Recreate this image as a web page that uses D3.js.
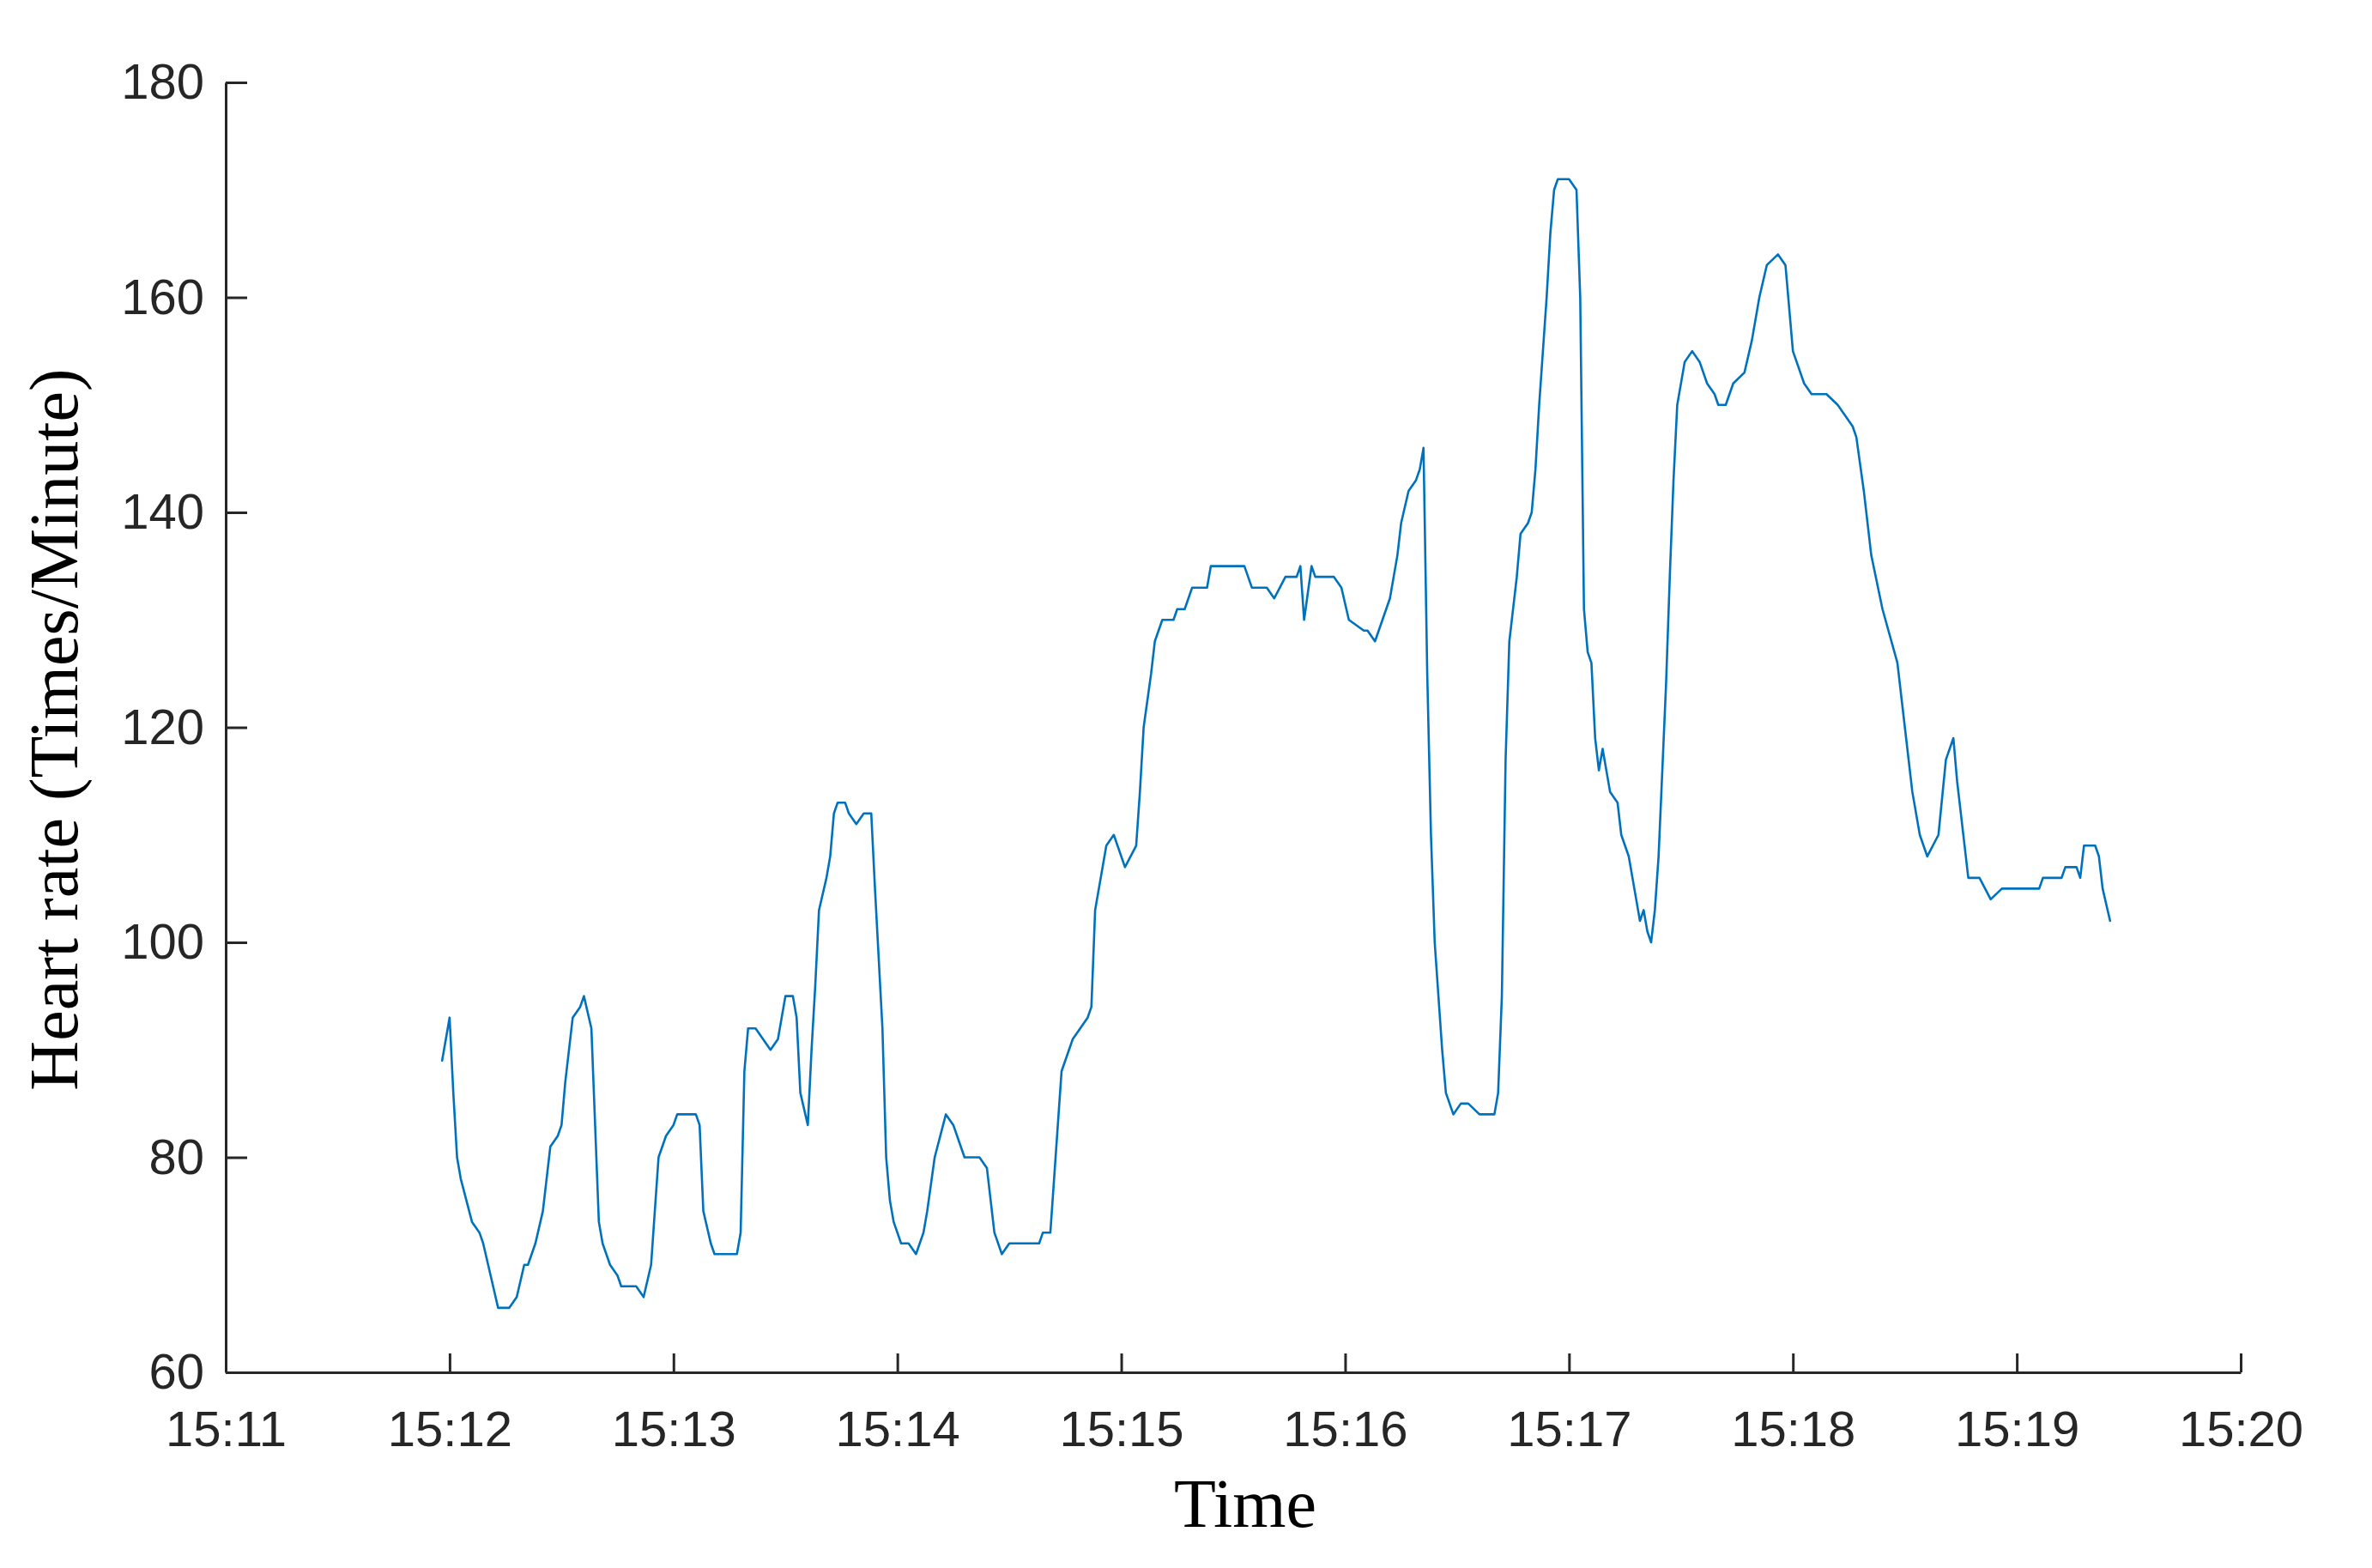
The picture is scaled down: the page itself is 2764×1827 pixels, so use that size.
<!DOCTYPE html>
<html>
<head>
<meta charset="utf-8">
<script src="https://cdn.jsdelivr.net/npm/d3@7"></script>
<style>
  html, body { margin: 0; padding: 0; background: #ffffff; }
  svg { display: block; }
</style>
</head>
<body>
<svg id="chart" width="2764" height="1827"></svg>
<script>
// ---- Data ----
const times = [
  "15:11:58","15:12:00","15:12:01","15:12:02","15:12:03","15:12:06","15:12:08","15:12:09","15:12:11","15:12:13",
  "15:12:16","15:12:18","15:12:20","15:12:21","15:12:23","15:12:25","15:12:27","15:12:29","15:12:30","15:12:31",
  "15:12:33","15:12:35","15:12:36","15:12:38","15:12:39","15:12:40","15:12:41","15:12:43","15:12:45","15:12:46",
  "15:12:50","15:12:52","15:12:54","15:12:56","15:12:58","15:13:00","15:13:01","15:13:06","15:13:07","15:13:08",
  "15:13:10","15:13:11","15:13:17","15:13:18","15:13:19","15:13:20","15:13:22","15:13:24","15:13:26","15:13:28",
  "15:13:30","15:13:32","15:13:33","15:13:34","15:13:36","15:13:37","15:13:38","15:13:39","15:13:41","15:13:42",
  "15:13:43","15:13:44","15:13:46","15:13:47","15:13:49","15:13:51","15:13:53","15:13:54","15:13:56","15:13:57",
  "15:13:58","15:13:59","15:14:01","15:14:03","15:14:05","15:14:07","15:14:08","15:14:10","15:14:13","15:14:15",
  "15:14:17","15:14:18","15:14:22","15:14:24","15:14:25","15:14:26","15:14:28","15:14:30","15:14:38","15:14:39",
  "15:14:41","15:14:42","15:14:44","15:14:47","15:14:49","15:14:51","15:14:52","15:14:53","15:14:54","15:14:56",
  "15:14:58","15:15:01","15:15:04","15:15:05","15:15:06","15:15:08","15:15:09","15:15:11","15:15:14","15:15:15",
  "15:15:17","15:15:19","15:15:23","15:15:24","15:15:33","15:15:35","15:15:39","15:15:41","15:15:44","15:15:47",
  "15:15:48","15:15:49","15:15:51","15:15:52","15:15:57","15:15:59","15:16:01","15:16:05","15:16:06","15:16:08",
  "15:16:10","15:16:12","15:16:14","15:16:15","15:16:17","15:16:19","15:16:20","15:16:21","15:16:22","15:16:23",
  "15:16:24","15:16:26","15:16:27","15:16:29","15:16:31","15:16:33","15:16:36","15:16:40","15:16:41","15:16:42",
  "15:16:43","15:16:44","15:16:46","15:16:47","15:16:49","15:16:50","15:16:51","15:16:52","15:16:54","15:16:55",
  "15:16:56","15:16:57","15:17:00","15:17:02","15:17:03","15:17:04","15:17:05","15:17:06","15:17:07","15:17:08",
  "15:17:09","15:17:10","15:17:11","15:17:13","15:17:14","15:17:16","15:17:17","15:17:18","15:17:19","15:17:20",
  "15:17:21","15:17:22","15:17:23","15:17:24","15:17:25","15:17:26","15:17:27","15:17:28","15:17:29","15:17:31",
  "15:17:33","15:17:35","15:17:37","15:17:39","15:17:40","15:17:42","15:17:44","15:17:47","15:17:49","15:17:51",
  "15:17:53","15:17:56","15:17:58","15:18:00","15:18:03","15:18:05","15:18:09","15:18:12","15:18:16","15:18:17",
  "15:18:19","15:18:21","15:18:24","15:18:28","15:18:30","15:18:32","15:18:34","15:18:36","15:18:39","15:18:41",
  "15:18:43","15:18:44","15:18:45","15:18:47","15:18:50","15:18:53","15:18:56","15:19:06","15:19:07","15:19:12",
  "15:19:13","15:19:16","15:19:17","15:19:18","15:19:21","15:19:22","15:19:23","15:19:25"
];
const heartRate = [
  89,93,86,80,78,74,73,72,69,66,
  66,67,70,70,72,75,81,82,83,87,
  93,94,95,92,83,74,72,70,69,68,
  68,67,70,80,82,83,84,84,83,75,
  72,71,71,73,88,92,92,91,90,91,
  95,95,93,86,83,90,96,103,106,108,
  112,113,113,112,111,112,112,105,92,80,
  76,74,72,72,71,73,75,80,84,83,
  81,80,80,79,76,73,71,72,72,73,
  73,78,88,91,92,93,94,103,105,109,
  110,107,109,114,120,125,128,130,130,131,
  131,133,133,135,135,133,133,132,134,134,
  135,130,135,134,134,133,130,129,129,128,
  130,132,136,139,142,143,144,146,125,110,
  100,90,86,84,85,85,84,84,86,95,
  117,128,134,138,139,140,144,150,160,166,
  170,171,171,170,160,131,127,126,119,116,
  118,116,114,113,110,108,106,104,102,103,
  101,100,103,108,116,124,134,143,150,154,
  155,154,152,151,150,150,152,153,156,160,
  163,164,163,155,152,151,151,150,148,147,
  142,136,131,126,120,114,110,108,110,117,
  119,115,112,106,106,104,105,105,106,106,
  107,107,106,109,109,108,105,102
];
const xTickLabels = ["15:11","15:12","15:13","15:14","15:15","15:16","15:17","15:18","15:19","15:20"];
const yTickValues = [60, 80, 100, 120, 140, 160, 180];
const xTitle = "Time";
const yTitle = "Heart rate (Times/Minute)";

(function draw() {
  const svg = d3.select("#chart");
  const plotLeft = 263, plotRight = 2611, plotTop = 96, plotBottom = 1599;
  const axisColor = "#262626";
  const lineColor = "#0072BD";
  const sansFont = "'Liberation Sans', Arial, Helvetica, sans-serif";
  const serifFont = "'Liberation Serif', 'Times New Roman', Times, serif";

  const parseTime = d3.timeParse("%H:%M:%S");
  const parseHM = d3.timeParse("%H:%M");
  const data = times.map((t, i) => ({ t: parseTime(t), v: heartRate[i] }));
  const xTicks = xTickLabels.map(parseHM);

  const x = d3.scaleTime()
    .domain([xTicks[0], xTicks[xTicks.length - 1]])
    .range([plotLeft, plotRight]);
  const y = d3.scaleLinear()
    .domain([60, 180])
    .range([plotBottom, plotTop]);

  // Line
  svg.append("path")
    .datum(data)
    .attr("fill", "none")
    .attr("stroke", lineColor)
    .attr("stroke-width", 2.6)
    .attr("stroke-linejoin", "round")
    .attr("stroke-linecap", "round")
    .attr("d", d3.line().x(d => x(d.t)).y(d => y(d.v)));

  // Axes
  const xAxis = d3.axisBottom(x)
    .tickValues(xTicks)
    .tickFormat(d3.timeFormat("%H:%M"))
    .tickSizeInner(-22)
    .tickSizeOuter(0)
    .tickPadding(45);

  const yAxis = d3.axisLeft(y)
    .tickValues(yTickValues)
    .tickSizeInner(-25)
    .tickSizeOuter(0)
    .tickPadding(25);

  const gx = svg.append("g")
    .attr("transform", `translate(0,${plotBottom})`)
    .call(xAxis);
  const gy = svg.append("g")
    .attr("transform", `translate(${plotLeft},0)`)
    .call(yAxis);

  [gx, gy].forEach(g => {
    g.attr("font-family", sansFont).attr("font-size", 58);
    g.select(".domain").attr("stroke", axisColor).attr("stroke-width", 3);
    g.selectAll(".tick line").attr("stroke", axisColor).attr("stroke-width", 3);
    g.selectAll(".tick text").attr("fill", axisColor);
  });

  // Axis titles
  svg.append("text")
    .attr("x", 1451)
    .attr("y", 1779)
    .attr("text-anchor", "middle")
    .attr("font-family", serifFont)
    .attr("font-size", 80)
    .attr("fill", "#000000")
    .text(xTitle);

  svg.append("text")
    .attr("transform", "translate(90,850) rotate(-90)")
    .attr("text-anchor", "middle")
    .attr("font-family", serifFont)
    .attr("font-size", 80)
    .attr("fill", "#000000")
    .text(yTitle);
})();
</script>
</body>
</html>
